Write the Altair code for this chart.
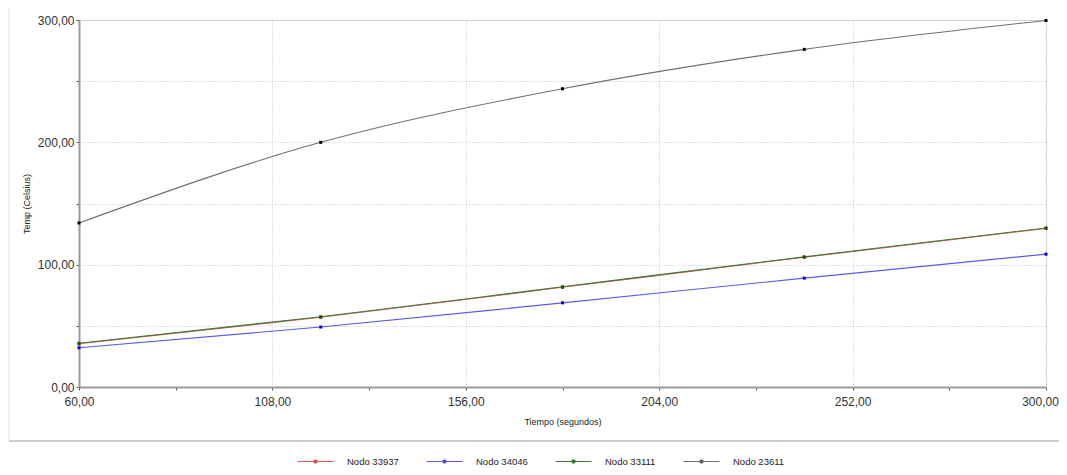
import altair as alt
import pandas as pd

# ---- data ----
tiempo = [60, 120, 180, 240, 300]
nodos = ["Nodo 33937", "Nodo 34046", "Nodo 33111", "Nodo 23611"]
n33937 = [35.3, 57.0, 81.5, 106.0, 129.6]
n34046 = [32.1, 49.0, 68.8, 89.0, 108.6]
n33111 = [35.7, 57.4, 81.9, 106.4, 130.0]
n23611 = [134.1, 200.0, 243.8, 276.0, 299.6]
x_ticks = [60, 84, 108, 132, 156, 180, 204, 228, 252, 276, 300]
y_ticks = [0, 50, 100, 150, 200, 250, 300]

line_colors = ["#e85a5a", "#5a5af0", "#3c7a3c", "#707070"]
point_colors = ["#e01010", "#0000e0", "#0a5a0a", "#000000"]

rows = []
for i, (name, vals) in enumerate(zip(nodos, [n33937, n34046, n33111, n23611])):
    for t, v in zip(tiempo, vals):
        rows.append({"t": t, "temp": v, "node": name, "ord": i})
df = pd.DataFrame(rows)

FONT = "Liberation Sans"

x_axis = alt.Axis(
    values=x_ticks,
    labelExpr="datum.value % 48 == 12 ? replace(format(datum.value, '.2f'), '.', ',') : ''",
    gridOpacity={"condition": {"test": "datum.value % 48 == 12", "value": 1}, "value": 0},
    labelOffset={"condition": {"test": "datum.value == 300", "value": -6}, "value": 0},
    grid=True, gridDash=[1, 2], gridColor="#c0c0c0", gridWidth=1,
    tickSize=3, tickColor="#555555", domainColor="#9a9a9a", domainWidth=2,
    labelFont=FONT, labelFontSize=12, labelColor="#333333", labelFlush=False,
    labelPadding=6, title="Tiempo (segundos)", titleFont=FONT, titleFontSize=9,
    titleFontWeight="normal", titleColor="#222222", titlePadding=10,
)
y_axis = alt.Axis(
    values=y_ticks,
    labelExpr="datum.value % 100 == 0 ? replace(format(datum.value, '.2f'), '.', ',') : ''",
    grid=True, gridDash=[1, 2], gridColor="#c0c0c0", gridWidth=1,
    tickSize=3, tickColor="#555555", domainColor="#9a9a9a", domainWidth=2,
    labelFont=FONT, labelFontSize=12, labelColor="#333333", labelFlush=False,
    labelPadding=2, title="Temp (Celsius)", titleFont=FONT, titleFontSize=9,
    titleFontWeight="normal", titleColor="#222222", titlePadding=6,
)

base = alt.Chart(df).encode(
    x=alt.X("t:Q", scale=alt.Scale(domain=[60, 300], nice=False, zero=False), axis=x_axis),
    y=alt.Y("temp:Q", scale=alt.Scale(domain=[0, 300], nice=False), axis=y_axis),
    order=alt.Order("ord:Q"),
)

legend_symbol = "M-1,0H1M-0.08,-0.08H0.08V0.08H-0.08Z"

lines = base.mark_line(interpolate="monotone", strokeWidth=1.1).encode(
    color=alt.Color(
        "node:N",
        scale=alt.Scale(domain=nodos, range=line_colors),
        sort=nodos,
        legend=alt.Legend(
            title=None, orient="none", direction="horizontal",
            legendX=218, legendY=423,
            symbolType=legend_symbol, symbolSize=1296, symbolStrokeWidth=1,
            labelFont=FONT, labelFontSize=9.5, labelColor="#222222",
            labelOffset=13, columnPadding=25,
        ),
    ),
    detail="node:N",
)

points = base.mark_square(size=9, opacity=1, strokeWidth=0).encode(
    fill=alt.Fill("node:N", scale=alt.Scale(domain=nodos, range=point_colors), legend=None),
)

frame_df = pd.DataFrame({"a": [0]})
frame = alt.Chart(frame_df).mark_rect(fill="transparent", stroke="#e4e4e4", strokeWidth=1).encode(
    x=alt.value(-70), x2=alt.value(984), y=alt.value(-13), y2=alt.value(421)
)
bottom_rule = alt.Chart(frame_df).mark_rule(color="#cccccc", strokeWidth=2).encode(
    x=alt.value(-70), x2=alt.value(984), y=alt.value(421)
)

chart = alt.layer(frame, bottom_rule, lines, points).properties(
    width=967, height=367,
    padding={"left": 71, "top": 12, "right": 13, "bottom": 80},
    autosize=alt.AutoSizeParams(type="none"),
).configure_view(stroke=None).configure(background="white")

chart.save("out.html", embed_options={"renderer": "svg", "actions": False})
